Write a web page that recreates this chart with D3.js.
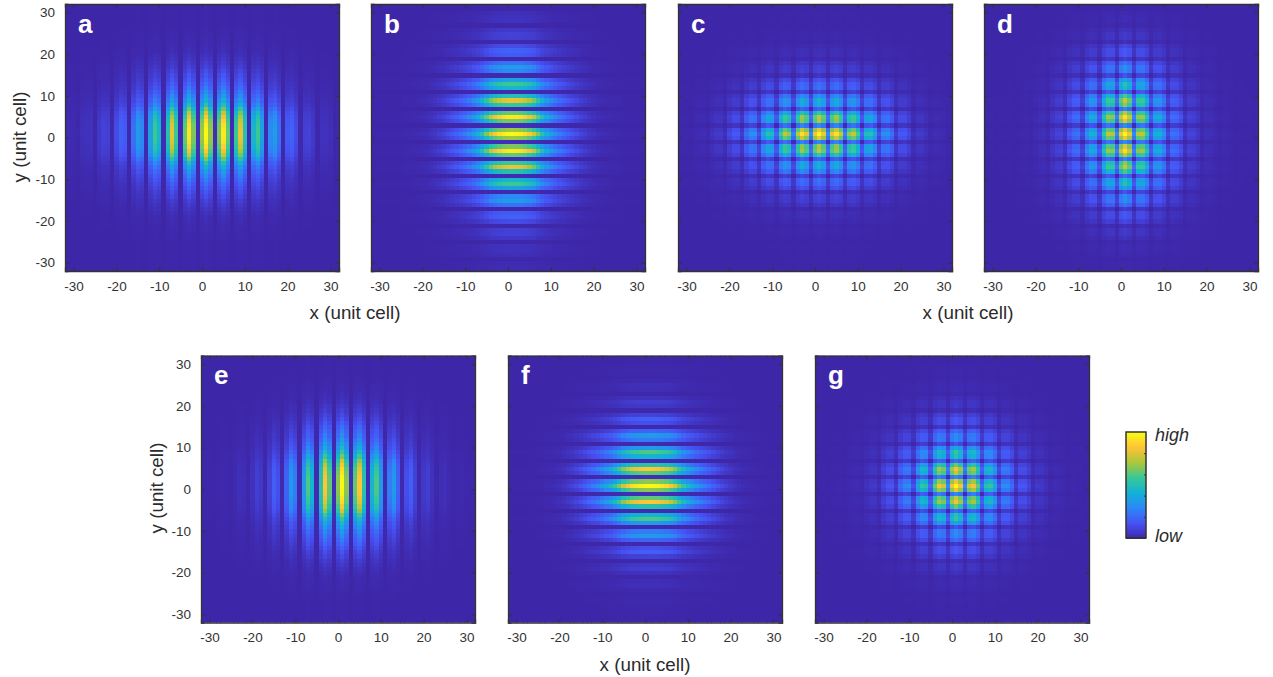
<!DOCTYPE html>
<html>
<head>
<meta charset="utf-8">
<script src="https://cdn.jsdelivr.net/npm/d3@7"></script>
<style>
  body { margin: 0; background: #fff; }
  text { font-family: "Liberation Sans", Arial, sans-serif; fill: #2b2b2b; }
</style>
</head>
<body>
<svg id="chart" width="1273" height="677"></svg>
<script>
// unit cell positions along each axis
const cellIndex = d3.range(-32, 33);
const tickLabels = [-30, -20, -10, 0, 10, 20, 30];

// parula colour stops, low to high
const colourStops = ["#3e26a8", "#4752f4", "#2d87f7", "#12b1d6", "#37c897", "#abc739", "#fec338", "#f9fb15"];

// intensity profiles, first line x = -32..-1, second line x = 0..32
const aX = [.011,.02,.016,.005, .028,.04,.04,.005, .06,.09,.085,.01, .12,.19,.165,.01, .23,.36,.30,.015, .38,.58,.46,.02, .52,.82,.58,.02, .63,.96,.66,.03,
  .70,1,.70,.03, .66,.96,.63,.02, .58,.82,.52,.02, .46,.58,.38,.015, .30,.36,.23,.01, .165,.19,.12,.01, .085,.09,.06,.005, .04,.04,.028,.005, .016];
const aY = [.005,.005,.005,.005, .005,.005,.005,.005, .01,.01,.015,.02, .025,.03,.045,.06, .08,.10,.13,.16, .19,.23,.27,.32, .38,.45,.53,.66, .79,.87,.93,.97,
  .99,1,.99,.97, .93,.87,.79,.66, .53,.45,.38,.32, .27,.23,.19,.16, .13,.10,.08,.06, .045,.03,.025,.02, .015,.01,.01,.005, .005,.005,.005,.005, .005];

const bX = [.005,.005,.005,.005, .005,.005,.005,.005, .01,.01,.015,.02, .025,.03,.045,.06, .08,.10,.13,.16, .19,.23,.27,.32, .38,.45,.53,.66, .79,.87,.93,.97,
  .99,1,.99,.97, .93,.87,.79,.66, .53,.45,.38,.32, .27,.23,.19,.16, .13,.10,.08,.06, .045,.03,.025,.02, .015,.01,.01,.005, .005,.005,.005,.005, .005];
const bY = [.011,.02,.016,.005, .028,.04,.04,.005, .06,.09,.085,.01, .12,.19,.165,.01, .23,.36,.30,.015, .38,.58,.46,.02, .52,.82,.58,.02, .63,.96,.66,.03,
  .70,1,.70,.03, .66,.96,.63,.02, .58,.82,.52,.02, .46,.58,.38,.015, .30,.36,.23,.01, .165,.19,.12,.01, .085,.09,.06,.005, .04,.04,.028,.005, .016];

const eX = [.002,.003,.003,.002, .005,.01,.008,.003, .015,.03,.025,.005, .04,.08,.06,.008, .09,.18,.13,.01, .19,.35,.26,.015, .35,.60,.45,.02, .53,.87,.63,.03,
  .68,1,.68,.03, .63,.87,.53,.02, .45,.60,.35,.015, .26,.35,.19,.01, .13,.18,.09,.008, .06,.08,.04,.005, .025,.03,.015,.003, .008,.01,.005,.002, .003];
const eY = [.003,.003,.003,.003, .003,.003,.005,.008, .01,.015,.02,.025, .035,.05,.07,.09, .12,.15,.19,.23, .27,.31,.36,.42, .48,.56,.66,.78, .86,.92,.95,.98,
  .99,1,.99,.98, .95,.92,.86,.78, .66,.56,.48,.42, .36,.31,.27,.23, .19,.15,.12,.09, .07,.05,.035,.025, .02,.015,.01,.008, .005,.003,.003,.003, .003];

const fX = [.003,.003,.003,.003, .003,.003,.005,.008, .01,.015,.02,.025, .035,.05,.07,.09, .12,.15,.19,.23, .27,.31,.36,.42, .48,.56,.66,.78, .86,.92,.95,.98,
  .99,1,.99,.98, .95,.92,.86,.78, .66,.56,.48,.42, .36,.31,.27,.23, .19,.15,.12,.09, .07,.05,.035,.025, .02,.015,.01,.008, .005,.003,.003,.003, .003];
const fY = [.002,.003,.003,.002, .005,.01,.008,.003, .015,.03,.025,.005, .04,.08,.06,.008, .09,.18,.13,.01, .19,.35,.26,.015, .35,.60,.45,.02, .53,.87,.63,.03,
  .68,1,.68,.03, .63,.87,.53,.02, .45,.60,.35,.015, .26,.35,.19,.01, .13,.18,.09,.008, .06,.08,.04,.005, .025,.03,.015,.003, .008,.01,.005,.002, .003];

// the crossed patterns c, d, g: smooth envelopes plus one lattice amplitude per cell
const lattice = [.84,1,.84,.15, .84,1,.84,.15, .84,1,.84,.15, .84,1,.84,.15, .84,1,.84,.15, .84,1,.84,.15, .84,1,.84,.15, .84,1,.84,.15,
  .84,1,.84,.15, .84,1,.84,.15, .84,1,.84,.15, .84,1,.84,.15, .84,1,.84,.15, .84,1,.84,.15, .84,1,.84,.15, .84,1,.84,.15, .84];

const cEnvX = [.006,.008,.01,.014, .018,.024,.03,.04, .05,.065,.08,.10, .13,.16,.19,.23, .27,.32,.36,.41, .46,.52,.58,.64, .70,.76,.81,.85, .89,.93,.96,.98,
  .995,1,.995,.98, .96,.93,.89,.85, .81,.76,.70,.64, .58,.52,.46,.41, .36,.32,.27,.23, .19,.16,.13,.10, .08,.065,.05,.04, .03,.024,.018,.014, .01];
const cEnvY = [.003,.003,.003,.003, .003,.003,.004,.005, .006,.009,.012,.016, .022,.03,.04,.055, .07,.09,.115,.145, .18,.22,.28,.33, .38,.44,.50,.58, .66,.75,.86,.93,
  .98,1,.98,.93, .86,.75,.66,.58, .50,.44,.38,.33, .28,.22,.18,.145, .115,.09,.07,.055, .04,.03,.022,.016, .012,.009,.006,.005, .004,.003,.003,.003, .003];

const dEnvX = [.003,.003,.003,.003, .003,.003,.004,.005, .006,.009,.012,.016, .022,.03,.04,.055, .07,.09,.115,.145, .18,.22,.28,.33, .38,.44,.50,.58, .66,.75,.86,.93,
  .98,1,.98,.93, .86,.75,.66,.58, .50,.44,.38,.33, .28,.22,.18,.145, .115,.09,.07,.055, .04,.03,.022,.016, .012,.009,.006,.005, .004,.003,.003,.003, .003];
const dEnvY = [.006,.008,.01,.014, .018,.024,.03,.04, .05,.065,.08,.10, .13,.16,.19,.23, .27,.32,.36,.41, .46,.52,.58,.64, .70,.76,.81,.85, .89,.93,.96,.98,
  .995,1,.995,.98, .96,.93,.89,.85, .81,.76,.70,.64, .58,.52,.46,.41, .36,.32,.27,.23, .19,.16,.13,.10, .08,.065,.05,.04, .03,.024,.018,.014, .01];

const gEnvX = [.003,.003,.003,.004, .005,.006,.008,.011, .015,.02,.026,.035, .045,.06,.075,.095, .12,.15,.18,.21, .25,.30,.36,.42, .48,.55,.62,.69, .76,.84,.91,.96,
  .99,1,.99,.96, .91,.84,.76,.69, .62,.55,.48,.42, .36,.30,.25,.21, .18,.15,.12,.095, .075,.06,.045,.035, .026,.02,.015,.011, .008,.006,.005,.004, .003];
const gEnvY = [.003,.003,.003,.004, .005,.006,.008,.011, .015,.02,.026,.035, .045,.06,.075,.095, .12,.15,.18,.21, .25,.30,.36,.42, .48,.55,.62,.69, .76,.84,.91,.96,
  .99,1,.99,.96, .91,.84,.76,.69, .62,.55,.48,.42, .36,.30,.25,.21, .18,.15,.12,.095, .075,.06,.045,.035, .026,.02,.015,.011, .008,.006,.005,.004, .003];

const panelW = 274, panelH = 267;
const svg = d3.select("#chart");

const colour = d3.scaleLinear()
  .domain(colourStops.map((c, i) => i / (colourStops.length - 1)))
  .range(colourStops)
  .clamp(true);

// stripe panels are one profile times the other
const striped = (px, py) => (i, j) => px[i] * py[j];
// crossed panels add the two lattice amplitudes, then square
const crossed = (ex, ey) => (i, j) => ex[i] * ey[j] * Math.pow((lattice[i] + lattice[j]) / 2, 2);

function drawPanel(letter, left, top, value, showY) {
  const x = d3.scaleLinear().domain([-32, 32]).range([0, panelW]);
  const y = d3.scaleLinear().domain([-32, 32]).range([panelH, 0]);
  const g = svg.append("g").attr("transform", `translate(${left},${top})`);

  const clipId = "clip-" + letter;
  g.append("clipPath").attr("id", clipId)
    .append("rect").attr("width", panelW).attr("height", panelH);

  // one rect per unit cell
  const cells = [];
  cellIndex.forEach((cx, i) => cellIndex.forEach((cy, j) => {
    cells.push({cx: cx, cy: cy, v: value(i, j)});
  }));
  g.append("g").attr("clip-path", `url(#${clipId})`)
    .attr("shape-rendering", "crispEdges")
    .selectAll("rect").data(cells).join("rect")
      .attr("x", d => x(d.cx - 0.5))
      .attr("y", d => y(d.cy + 0.5))
      .attr("width", x(1) - x(0) + 0.6)
      .attr("height", y(0) - y(1) + 0.6)
      .attr("fill", d => colour(d.v));

  // box with inward ticks on all four sides, matlab style
  const sides = [
    [d3.axisBottom(x), 0, panelH, true],
    [d3.axisTop(x), 0, 0, false],
    [d3.axisLeft(y), 0, 0, showY],
    [d3.axisRight(y), panelW, 0, false]
  ];
  sides.forEach(s => {
    const ax = g.append("g")
      .attr("transform", `translate(${s[1]},${s[2]})`)
      .call(s[0].tickValues(tickLabels).tickSize(-3.5).tickPadding(10)
        .tickFormat(s[3] ? d => String(d) : ""));
    ax.selectAll("path").attr("stroke", "#333").attr("stroke-width", 1.3);
    ax.selectAll("line").attr("stroke", "#333").attr("stroke-width", 1);
    ax.selectAll("text").attr("font-size", 13.5).style("fill", "#333")
      .style("font-family", '"Liberation Sans", Arial, sans-serif');
  });

  g.append("text")
    .attr("x", 13).attr("y", 28.7)
    .attr("font-size", 26).attr("font-weight", "bold")
    .style("fill", "#fff")
    .text(letter);
}

drawPanel("a", 65, 4, striped(aX, aY), true);
drawPanel("b", 371, 4, striped(bX, bY), false);
drawPanel("c", 678, 4, crossed(cEnvX, cEnvY), false);
drawPanel("d", 984, 4, crossed(dEnvX, dEnvY), false);
drawPanel("e", 201, 355.7, striped(eX, eY), true);
drawPanel("f", 508, 355.7, striped(fX, fY), false);
drawPanel("g", 815, 355.7, crossed(gEnvX, gEnvY), false);

// axis titles
function label(px, py, txt, rotate) {
  svg.append("text")
    .attr("text-anchor", "middle")
    .attr("font-size", 18.8)
    .attr("transform", `translate(${px},${py})` + (rotate ? " rotate(-90)" : ""))
    .text(txt);
}
label(355, 319, "x (unit cell)");
label(968, 319, "x (unit cell)");
label(645, 671, "x (unit cell)");
label(26, 137, "y (unit cell)", true);
label(163, 488, "y (unit cell)", true);

// colour bar
const legendY = d3.scaleLinear().domain([0, 1]).range([538, 432]);
const legendLevels = d3.range(0, 1, 1 / 64);
svg.append("g").attr("shape-rendering", "crispEdges")
  .selectAll("rect").data(legendLevels).join("rect")
    .attr("x", 1126).attr("width", 20)
    .attr("y", d => legendY(d + 1 / 64))
    .attr("height", legendY(0) - legendY(1 / 64) + 0.5)
    .attr("fill", d => colour(d + 0.5 / 64));
svg.append("rect")
  .attr("x", 1126).attr("y", 432).attr("width", 20).attr("height", 106)
  .attr("fill", "none").attr("stroke", "#333").attr("stroke-width", 1.5);
svg.append("g")
  .attr("transform", "translate(1146,0)")
  .call(d3.axisLeft(legendY).tickValues([0.2, 0.4, 0.6, 0.8]).tickSize(2).tickFormat(""))
  .call(a => a.select("path").remove())
  .selectAll("line").attr("stroke", "#333");
svg.append("text").attr("x", 1155).attr("y", 441)
  .attr("font-size", 18).attr("font-style", "italic").text("high");
svg.append("text").attr("x", 1155).attr("y", 542)
  .attr("font-size", 18).attr("font-style", "italic").text("low");
</script>
</body>
</html>
